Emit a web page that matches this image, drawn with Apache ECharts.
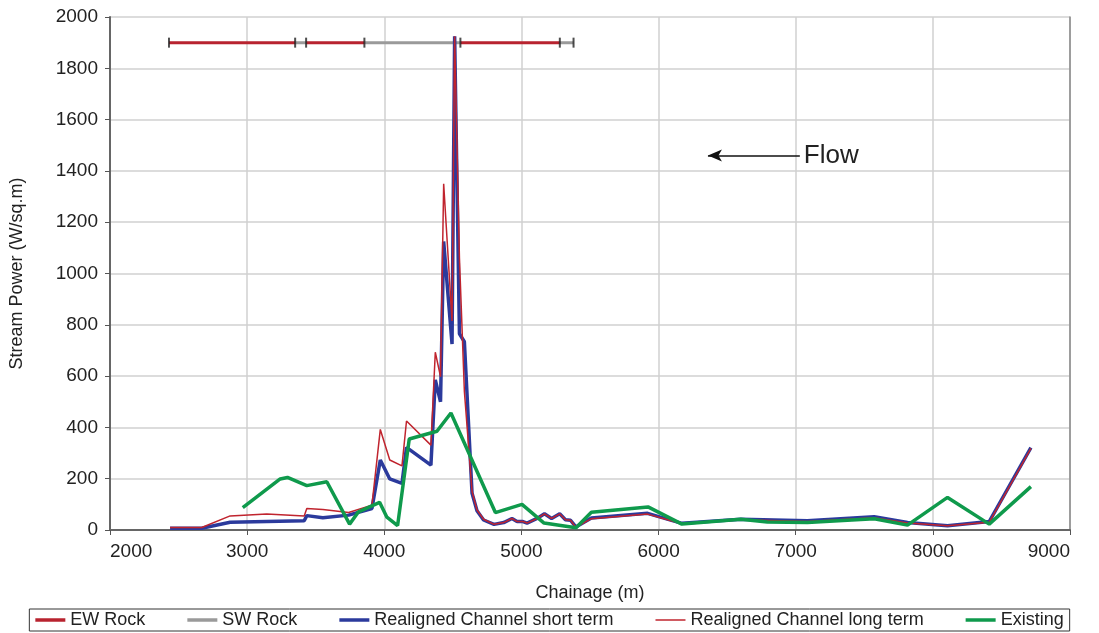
<!DOCTYPE html>
<html>
<head>
<meta charset="utf-8">
<script src="https://cdn.jsdelivr.net/npm/echarts@6.0.0/dist/echarts.min.js"></script>
<style>
    html, body { margin: 0; padding: 0; background: #fff; }
    #chart { width: 1099px; height: 633px; }
</style>
</head>
<body>
<div id="chart"></div>
<script>
// chainage of the realigned channel sections (m)
const chainage = [2438, 2669, 2876, 3143, 3416, 3435, 3552, 3740, 3910, 3971,
    4040, 4129, 4162, 4340, 4372, 4410, 4433, 4494, 4513, 4548,
    4584, 4640, 4676, 4724, 4800, 4871, 4931, 4968, 5011, 5041,
    5114, 5168, 5220, 5279, 5321, 5358, 5397, 5510, 5920, 6170,
    6600, 7085, 7572, 7815, 8107, 8411, 8715];
const shortTerm = [7, 7, 30, 33, 36, 56, 48, 58, 84, 273,
    199, 182, 322, 253, 585, 500, 1125, 725, 1925, 765,
    734, 143, 75, 39, 22, 29, 45, 33, 33, 27,
    45, 63, 45, 63, 40, 38, 12, 47, 65, 26,
    42, 36, 52, 29, 17, 33, 321];
const longTerm = [10, 10, 55, 62, 55, 84, 80, 68, 97, 392,
    273, 250, 425, 331, 693, 598, 1350, 815, 1925, 1060,
    540, 150, 78, 42, 22, 29, 45, 33, 33, 27,
    45, 63, 45, 63, 40, 38, 10, 44, 62, 24,
    40, 33, 48, 27, 17, 30, 318];

// existing channel
const existingX = [2968, 3241, 3294, 3435, 3581, 3747, 3812, 3966, 4019, 4097,
    4182, 4384, 4486, 4810, 5004, 5165, 5398, 5510, 5923, 6170,
    6600, 6793, 7085, 7572, 7815, 8107, 8411, 8715];
const existing = [87, 199, 205, 173, 188, 23, 71, 108, 50, 17,
    355, 385, 456, 68, 100, 27, 9, 69, 90, 23,
    42, 31, 29, 44, 19, 127, 23, 169];

// rock protection reaches, drawn at one level
const rockLevel = 1900;
const ewRockSpans = [[2430, 3350], [3430, 3855], [4555, 5280]];
const swRockSpans = [[3350, 3430], [3855, 4555], [5280, 5380]];

const flowArrow = [[7030, 1460], [6360, 1460]];

const xTicks = { min: 2000, max: 9000, step: 1000 };
const yTicks = { min: 0, max: 2000, step: 200 };

const font = 'Liberation Sans, Arial, sans-serif';

function pairs(xs, ys) {
    return xs.map((x, i) => [x, ys[i]]);
}

function spanLine(spans) {
    let res = [];
    spans.forEach((s, i) => {
        if (i > 0) res.push([s[0], '-']);
        res.push([s[0], rockLevel], [s[1], rockLevel]);
    });
    return res;
}

let tickSet = [];
ewRockSpans.concat(swRockSpans).forEach(s => {
    for (let x of s) if (tickSet.indexOf(x) < 0) tickSet.push(x);
});
const rockTicks = tickSet.map(x => [x, rockLevel]);

// legend swatches: plain strokes, thin one for the long term line
const thickIcon = 'path://M0,0H30V3.5H0Z';
const thinIcon = 'path://M0,0H30V1.5H0Z';
const legendNames = ['EW Rock', 'SW Rock', 'Realigned Channel short term', 'Realigned Channel long term', 'Existing'];

const chart = echarts.init(document.getElementById('chart'));

const option = {
    backgroundColor: '#FFFFFF',
    animation: false,
    textStyle: { fontFamily: font },
    grid: { left: 110, right: 29, top: 17, bottom: 103 },
    legend: {
        data: legendNames.map(n => ({
            name: n,
            icon: n === 'Realigned Channel long term' ? thinIcon : thickIcon
        })),
        left: 'center',
        bottom: 2,
        itemWidth: 30,
        itemHeight: 12,
        itemGap: 42,
        symbolKeepAspect: true,
        padding: [2, 6],
        borderColor: '#333',
        borderWidth: 1,
        borderRadius: 0,
        textStyle: { fontSize: 18, color: '#222', fontFamily: font }
    },
    xAxis: {
        type: 'value',
        min: xTicks.min,
        max: xTicks.max,
        interval: xTicks.step,
        name: 'Chainage (m)',
        nameLocation: 'middle',
        nameGap: 54,
        nameTextStyle: { fontSize: 18, color: '#222' },
        axisLine: { lineStyle: { color: '#666', width: 2 } },
        axisTick: { length: 5, lineStyle: { color: '#555' } },
        axisLabel: {
            fontSize: 19, color: '#222', margin: 12,
            alignMinLabel: 'left', alignMaxLabel: 'right',
            formatter: v => String(v)
        },
        splitLine: { show: true, lineStyle: { color: '#d0d0d0', width: 1.5 } }
    },
    yAxis: [{
        type: 'value',
        min: yTicks.min,
        max: yTicks.max,
        interval: yTicks.step,
        name: 'Stream Power (W/sq.m)',
        nameLocation: 'middle',
        nameGap: 84,
        nameTextStyle: { fontSize: 18, color: '#222' },
        axisLine: { show: true, lineStyle: { color: '#666', width: 2 } },
        axisTick: { show: true, length: 5, lineStyle: { color: '#555' } },
        axisLabel: { fontSize: 19, color: '#222', margin: 12, formatter: v => String(v) },
        splitLine: { show: true, lineStyle: { color: '#d0d0d0', width: 1.5 } }
    }, {
        type: 'value',
        position: 'right',
        min: yTicks.min,
        max: yTicks.max,
        axisLine: { show: true, lineStyle: { color: '#888', width: 1.5 } },
        axisTick: { show: false },
        axisLabel: { show: false },
        splitLine: { show: false }
    }],
    series: [{
        name: 'SW Rock',
        type: 'line',
        data: spanLine(swRockSpans),
        symbol: 'none',
        lineStyle: { color: '#9a9a9a', width: 3 },
        itemStyle: { color: '#9a9a9a' },
        z: 2
    }, {
        name: 'EW Rock',
        type: 'line',
        data: spanLine(ewRockSpans),
        symbol: 'none',
        lineStyle: { color: '#b8232f', width: 3 },
        itemStyle: { color: '#b8232f' },
        z: 2
    }, {
        name: 'rock ticks',
        type: 'scatter',
        data: rockTicks,
        symbol: 'rect',
        symbolSize: [2, 10],
        itemStyle: { color: '#222' },
        z: 3
    }, {
        name: 'Realigned Channel short term',
        type: 'line',
        data: pairs(chainage, shortTerm),
        symbol: 'none',
        lineStyle: { color: '#2b3a9c', width: 3.5 },
        itemStyle: { color: '#2b3a9c' },
        z: 4
    }, {
        name: 'Realigned Channel long term',
        type: 'line',
        data: pairs(chainage, longTerm),
        symbol: 'none',
        lineStyle: { color: '#c0242e', width: 1.5 },
        itemStyle: { color: '#c0242e' },
        z: 5
    }, {
        name: 'Existing',
        type: 'line',
        data: pairs(existingX, existing),
        symbol: 'none',
        lineStyle: { color: '#0f9a4c', width: 3.5 },
        itemStyle: { color: '#0f9a4c' },
        z: 6,
        markLine: {
            silent: true,
            symbol: ['none', 'arrow'],
            symbolSize: [9, 14],
            lineStyle: { color: '#111', width: 1.5, type: 'solid' },
            label: {
                show: true,
                position: 'start',
                formatter: 'Flow',
                fontSize: 26,
                color: '#222',
                distance: 4
            },
            data: [[{ coord: flowArrow[0] }, { coord: flowArrow[1] }]]
        }
    }]
};

chart.setOption(option);
</script>
</body>
</html>
